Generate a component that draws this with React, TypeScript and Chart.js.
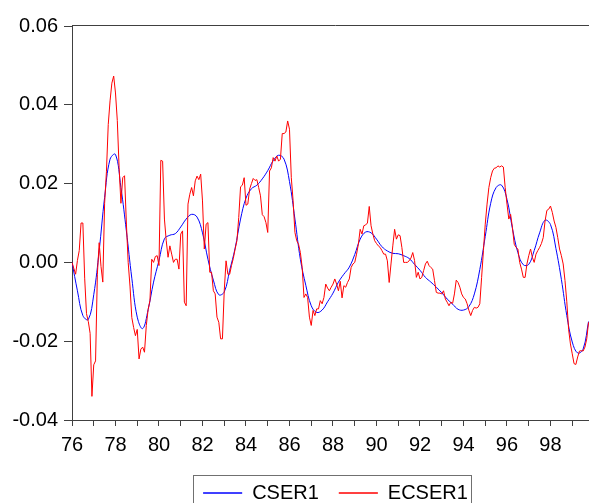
import React, { useEffect, useRef } from 'react';
import { Chart, registerables } from 'chart.js';

Chart.register(...registerables);

// Monthly data, first observation 1976M1
const START_YEAR = 1976;

// ECSER1 (monthly)
const ecser1: number[] = [
  0.0000, -0.0015, -0.0030, 0.0005, 0.0030, 0.0100, 0.0100, -0.0040, -0.0130, -0.0150, -0.0180, -0.0340,
  -0.0260, -0.0250, -0.0030, 0.0050, -0.0010, -0.0050, 0.0150, 0.0230, 0.0350, 0.0410, 0.0455, 0.0473,
  0.0430, 0.0360, 0.0240, 0.0150, 0.0215, 0.0220, 0.0100, 0.0000, -0.0060, -0.0140, -0.0165, -0.0186,
  -0.0170, -0.0245, -0.0220, -0.0215, -0.0228, -0.0160, -0.0120, -0.0097, 0.0008, 0.0000, 0.0015, 0.0017,
  -0.0008, 0.0259, 0.0257, 0.0110, 0.0055, 0.0013, 0.0042, 0.0021, 0.0000, 0.0008, 0.0008, -0.0017,
  0.0072, 0.0080, -0.0101, -0.0110, 0.0148, 0.0173, 0.0190, 0.0169, 0.0207, 0.0219, 0.0210, 0.0224,
  0.0156, 0.0034, 0.0097, 0.0101, -0.0025, -0.0025, -0.0072, -0.0080, -0.0139, -0.0152, -0.0194, -0.0194,
  -0.0072, 0.0004, -0.0030, -0.0030, -0.0008, 0.0010, 0.0034, 0.0055, 0.0114, 0.0192, 0.0196, 0.0215,
  0.0145, 0.0148, 0.0186, 0.0200, 0.0213, 0.0208, 0.0210, 0.0190, 0.0169, 0.0121, 0.0116, 0.0101,
  0.0076, 0.0232, 0.0240, 0.0266, 0.0257, 0.0270, 0.0257, 0.0262, 0.0327, 0.0327, 0.0331, 0.0359,
  0.0338, 0.0215, 0.0156, 0.0076, 0.0055, 0.0046, 0.0025, -0.0013, -0.0089, -0.0080, -0.0089, -0.0139,
  -0.0160, -0.0122, -0.0135, -0.0118, -0.0118, -0.0097, -0.0105, -0.0089, -0.0055, -0.0065, -0.0072, -0.0063,
  -0.0055, -0.0042, -0.0055, -0.0072, -0.0048, -0.0090, -0.0059, -0.0063, -0.0051, -0.0042, -0.0013, -0.0004,
  0.0000, 0.0021, 0.0046, 0.0084, 0.0072, 0.0093, 0.0095, 0.0100, 0.0142, 0.0093, 0.0072, 0.0055,
  0.0048, 0.0042, 0.0038, 0.0030, 0.0021, 0.0021, 0.0004, -0.0051, -0.0004, 0.0042, 0.0084, 0.0059,
  0.0070, 0.0068, 0.0038, 0.0000, 0.0000, 0.0000, 0.0004, 0.0011, 0.0025, 0.0005, -0.0038, -0.0025,
  -0.0042, -0.0038, -0.0021, -0.0004, 0.0003, -0.0008, -0.0013, -0.0017, -0.0046, -0.0076, -0.0078, -0.0078,
  -0.0080, -0.0072, -0.0093, -0.0101, -0.0110, -0.0101, -0.0104, -0.0080, -0.0045, -0.0051, -0.0063, -0.0080,
  -0.0089, -0.0093, -0.0105, -0.0122, -0.0135, -0.0122, -0.0114, -0.0116, -0.0114, -0.0105, -0.0038, 0.0030,
  0.0097, 0.0148, 0.0190, 0.0215, 0.0232, 0.0239, 0.0240, 0.0245, 0.0242, 0.0245, 0.0242, 0.0190,
  0.0148, 0.0110, 0.0122, 0.0089, 0.0046, 0.0038, 0.0034, 0.0000, -0.0017, -0.0038, -0.0038, -0.0004,
  0.0017, 0.0034, 0.0013, 0.0000, 0.0021, 0.0030, 0.0038, 0.0048, 0.0063, 0.0105, 0.0132, 0.0135,
  0.0143, 0.0127, 0.0105, 0.0089, 0.0063, 0.0034, 0.0017, -0.0004, -0.0046, -0.0100, -0.0170, -0.0207,
  -0.0232, -0.0257, -0.0259, -0.0240, -0.0225, -0.0224, -0.0225, -0.0215, -0.0194, -0.0152,
];

// CSER1 (smooth trend), read every 3 months starting 1976M1
const CSER1_STEP_MONTHS = 3;
const cser1: number[] = [
  0.0000, -0.0072, -0.0135, -0.0145, -0.0082, 0.0030, 0.0165, 0.0262, 0.0274, 0.0190, 0.0080, -0.0040,
  -0.0139, -0.0168, -0.0120, -0.0050, 0.0005, 0.0060, 0.0069, 0.0073, 0.0090, 0.0110, 0.0122, 0.0115,
  0.0075, 0.0008, -0.0045, -0.0082, -0.0075, -0.0020, 0.0036, 0.0110, 0.0163, 0.0187, 0.0196, 0.0212,
  0.0233, 0.0258, 0.0272, 0.0262, 0.0205, 0.0110, 0.0008, -0.0058, -0.0110, -0.0127, -0.0121, -0.0100,
  -0.0078, -0.0050, -0.0030, -0.0012, 0.0020, 0.0059, 0.0077, 0.0075, 0.0059, 0.0040, 0.0029, 0.0023,
  0.0022, 0.0017, 0.0010, -0.0005, -0.0020, -0.0038, -0.0050, -0.0063, -0.0077, -0.0093, -0.0106, -0.0119,
  -0.0121, -0.0112, -0.0080, -0.0018, 0.0066, 0.0150, 0.0190, 0.0196, 0.0160, 0.0086, 0.0025, -0.0006,
  -0.0005, 0.0030, 0.0075, 0.0107, 0.0096, 0.0035, -0.0043, -0.0135, -0.0202, -0.0230, -0.0220, -0.0150,
];

const seriesNames = ['CSER1', 'ECSER1'];
const yMin = -0.04;
const yMax = 0.06;
const yStep = 0.02;
const xMin = 1976;
const xMax = 2000.23;
const lastLabelledYear = 1998;

const FONT = 'Liberation Sans, Arial, Helvetica, sans-serif';
const AXIS = '#404040';

export default function App() {
  const ref = useRef<HTMLCanvasElement>(null);

  useEffect(() => {
    if (!ref.current) return;
    const redPts = ecser1.map((v, i) => ({ x: START_YEAR + i / 12, y: v }));
    const bluePts = cser1.map((v, i) => ({ x: START_YEAR + (i * CSER1_STEP_MONTHS) / 12, y: v }));

    const framePlugin = {
      id: 'frame',
      afterDraw(chart: any) {
        const { ctx, chartArea } = chart;
        ctx.save();
        ctx.strokeStyle = AXIS;
        ctx.lineWidth = 1;
        ctx.beginPath();
        ctx.moveTo(chartArea.left, chartArea.top - 0.5);
        ctx.lineTo(chartArea.right, chartArea.top - 0.5);
        ctx.stroke();
        const hb = chart.legend && chart.legend.legendHitBoxes;
        if (hb && hb.length) {
          const first = hb[0];
          const last = hb[hb.length - 1];
          const l = Math.round(first.left - 10) + 0.5;
          const t = Math.round(first.top - 8) + 0.5;
          const r = Math.round(last.left + last.width + 3) + 0.5;
          const b = Math.round(first.top + first.height + 12) + 0.5;
          ctx.strokeStyle = '#707070';
          ctx.strokeRect(l, t, r - l, b - t);
        }
        ctx.restore();
      },
    };

    const chart = new Chart(ref.current, {
      type: 'line',
      data: {
        datasets: [
          {
            label: seriesNames[0],
            data: bluePts,
            borderColor: '#0000ff',
            backgroundColor: '#0000ff',
            borderWidth: 1,
            pointRadius: 0,
            tension: 0.4,
            order: 1,
          },
          {
            label: seriesNames[1],
            data: redPts,
            borderColor: '#ff0000',
            backgroundColor: '#ff0000',
            borderWidth: 1,
            pointRadius: 0,
            tension: 0,
            order: 0,
          },
        ],
      },
      options: {
        animation: false,
        responsive: false,
        maintainAspectRatio: false,
        layout: { padding: { top: 26, left: 0, right: 0, bottom: 0 } },
        plugins: {
          legend: {
            position: 'bottom',
            fullSize: false,
            labels: {
              boxWidth: 39,
              boxHeight: 0,
              padding: 20,
              color: '#000',
              font: { family: FONT, size: 20 },
              sort: (a: any, b: any) => a.datasetIndex - b.datasetIndex,
            },
          },
          tooltip: { enabled: false },
        },
        scales: {
          x: {
            type: 'linear',
            min: xMin,
            max: xMax,
            afterFit: (s: any) => {
              s.height = 43;
              s.paddingRight = 0;
              s.paddingLeft = 0;
            },
            grid: { drawOnChartArea: false, drawTicks: true, tickLength: 6, color: AXIS },
            border: { display: true, color: AXIS, width: 1 },
            ticks: {
              stepSize: 1,
              autoSkip: false,
              maxRotation: 0,
              minRotation: 0,
              padding: 7,
              color: '#000',
              font: { family: FONT, size: 20 },
              callback: (v: any) => {
                const n = Number(v);
                if (Math.abs(n - Math.round(n)) > 1e-6) return '';
                const yr = Math.round(n);
                if (yr > lastLabelledYear) return '';
                return yr % 2 === 0 ? String(yr).slice(2) : '';
              },
            },
          },
          y: {
            min: yMin,
            max: yMax,
            afterFit: (s: any) => { s.width = 72; },
            grid: { drawOnChartArea: false, drawTicks: true, tickLength: 8, color: AXIS },
            border: { display: true, color: AXIS, width: 1 },
            ticks: {
              stepSize: yStep,
              padding: 6,
              color: '#000',
              font: { family: FONT, size: 20 },
              callback: (v: any) => Number(v).toFixed(2),
            },
          },
        },
      },
      plugins: [framePlugin],
    } as any);

    return () => chart.destroy();
  }, []);

  return (
    <div
      style={{
        position: 'absolute',
        left: 0,
        top: 0,
        width: 589,
        height: 503,
        overflow: 'hidden',
        background: '#fff',
      }}
    >
      <canvas ref={ref} width={599} height={513} style={{ display: 'block', width: 599, height: 513 }} />
    </div>
  );
}
